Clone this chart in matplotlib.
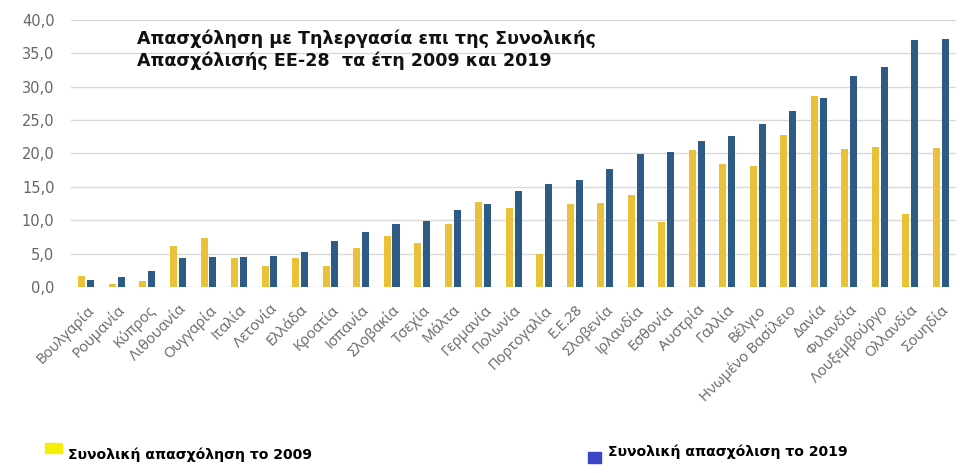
import matplotlib
matplotlib.use('Agg')
from matplotlib import pyplot as plt
from matplotlib import ticker
from matplotlib.patches import Rectangle
import numpy as np

countries = ['Βουλγαρία', 'Ρουμανία', 'Κύπρος', 'Λιθουανία', 'Ουγγαρία', 'Ιταλία',
             'Λετονία', 'Ελλάδα', 'Κροατία', 'Ισπανία', 'Σλοβακία', 'Τσεχία', 'Μάλτα',
             'Γερμανία', 'Πολωνία', 'Πορτογαλία', 'Ε.Ε.28', 'Σλοβενία', 'Ιρλανδία',
             'Εσθονία', 'Αυστρία', 'Γαλλία', 'Βέλγιο', 'Ηνωμένο Βασίλειο', 'Δανία',
             'Φιλανδία', 'Λουξεμβούργο', 'Ολλανδία', 'Σουηδία']
share_2009 = [1.7, 0.4, 0.9, 6.2, 7.4, 4.4, 3.2, 4.3, 3.2, 5.8, 7.6, 6.6, 9.5,
              12.8, 11.9, 4.9, 12.4, 12.6, 13.8, 9.8, 20.5, 18.5, 18.2, 22.8, 28.6,
              20.7, 21.0, 10.9, 20.8]
share_2019 = [1.0, 1.5, 2.4, 4.4, 4.5, 4.5, 4.7, 5.3, 6.9, 8.2, 9.5, 9.9, 11.5,
              12.5, 14.4, 15.4, 16.0, 17.7, 19.9, 20.2, 21.8, 22.6, 24.4, 26.4, 28.3,
              31.6, 32.9, 37.0, 37.1]

title = 'Απασχόληση με Τηλεργασία επι της Συνολικής\nΑπασχόλισής ΕΕ-28  τα έτη 2009 και 2019'
label_2009 = 'Συνολική απασχόληση το 2009'
label_2019 = 'Συνολική απασχόλιση το 2019'

x = np.arange(len(countries))
width = 0.23

fig = plt.figure(figsize=(9.61, 4.73), dpi=100)
ax = fig.add_axes([0.074, 0.393, 0.921, 0.565])

ax.bar(x - 0.145, share_2009, width, color='#E9C23A', zorder=2)
ax.bar(x + 0.145, share_2019, width, color='#2E5A86', zorder=2)

# οριζόντιες γραμμές πλέγματος
ax.set_ylim(0, 40)
ax.set_xlim(-0.5, len(countries) - 0.5)
ax.yaxis.set_major_locator(ticker.MultipleLocator(5))
ax.yaxis.set_major_formatter(ticker.FuncFormatter(lambda v, p: f'{v:.1f}'.replace('.', ',')))
ax.grid(axis='y', color='#D9D9D9', linewidth=1)
ax.set_axisbelow(True)
for side in ['top', 'right', 'left', 'bottom']:
    ax.spines[side].set_visible(False)
ax.tick_params(axis='both', length=0, colors='#666666')
ax.tick_params(axis='y', labelsize=10.5, pad=12)

ax.set_xticks(x)
ax.set_xticklabels(countries, rotation=45, ha='right', va='top',
                   rotation_mode='anchor', fontsize=10.6, color='#666666',
                   family='Open Sans')
ax.tick_params(axis='x', pad=11)

fig.text(0.1425, 0.937, title, fontsize=12.6, fontweight='bold', color='#111111',
         ha='left', va='top', linespacing=1.25)

# υπόμνημα κάτω από το γράφημα
fig.patches.append(Rectangle((45 / 961, 1 - 453 / 473), 17 / 961, 10 / 473,
                             transform=fig.transFigure, color='#F5EE0A'))
fig.text(68 / 961, 1 - 455 / 473, label_2009, fontsize=10.1, fontweight='bold',
         ha='left', va='center')
fig.patches.append(Rectangle((588 / 961, 1 - 463 / 473), 13 / 961, 11 / 473,
                             transform=fig.transFigure, color='#3B44C6'))
fig.text(608 / 961, 1 - 452 / 473, label_2019, fontsize=10.1, fontweight='bold',
         ha='left', va='center')

plt.savefig('out.png', dpi=100)
plt.close()
